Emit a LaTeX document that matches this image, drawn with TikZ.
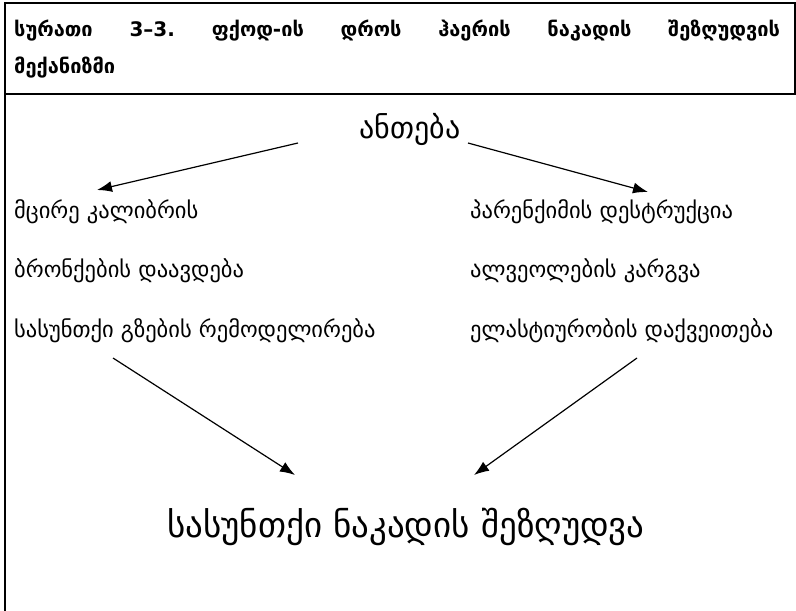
\documentclass[tikz,border=0pt]{standalone}
\usepackage{fontspec}
\setmainfont{DejaVu Sans}
\usetikzlibrary{arrows.meta}

\begin{document}
\frenchspacing
\begin{tikzpicture}[x=1pt,y=-1pt]
\tikzstyle{every node}+=[inner sep=0pt]
\tikzstyle{item}=[anchor=base west,font=\fontsize{22.5}{27}\selectfont]
\tikzstyle{big}=[anchor=base,font=\fontsize{35}{40}\selectfont]
\tikzstyle{arr}=[-{Latex[length=15pt,width=11pt]},line width=1.2pt]
\useasboundingbox (0,0) rectangle (796,611);
% frame
\draw [line width=1.5pt] (5,611) -- (5,3) -- (795,3) -- (795,94) -- (5,94);
\node (title) [anchor=north west,text width=766pt,align=justify,font=\bfseries\fontsize{20}{37}\selectfont] at (14,20) {სურათი 3–3. ფქოდ-ის დროს ჰაერის ნაკადის შეზღუდვის\linebreak მექანიზმი};
% causes
\node (anteba) [big,font=\fontsize{30}{36}\selectfont] at (410,138) {ანთება};
\node (small) [item] at (14,218) {მცირე კალიბრის};
\node (bronch) [item] at (14,277) {ბრონქების დაავდება};
\node (remodel) [item] at (14,337) {სასუნთქი გზების რემოდელირება};
\node (paren) [item] at (470,218) {პარენქიმის დესტრუქცია};
\node (alveol) [item] at (470,277) {ალვეოლების კარგვა};
\node (elastic) [item] at (470,337) {ელასტიურობის დაქვეითება};
\node (restrict) [big] at (406,537) {სასუნთქი ნაკადის შეზღუდვა};
% arrows
\draw [arr] ([shift={(-112,5)}]anteba.base) -- ([shift={(83,-28)}]small.base west);
\draw [arr] ([shift={(58,5)}]anteba.base) -- ([shift={(178,-26)}]paren.base west);
\draw [arr] ([shift={(99,21)}]remodel.base west) -- ([shift={(-111,-62)}]restrict.base);
\draw [arr] ([shift={(167,21)}]elastic.base west) -- ([shift={(68,-62)}]restrict.base);
\end{tikzpicture}
\end{document}
